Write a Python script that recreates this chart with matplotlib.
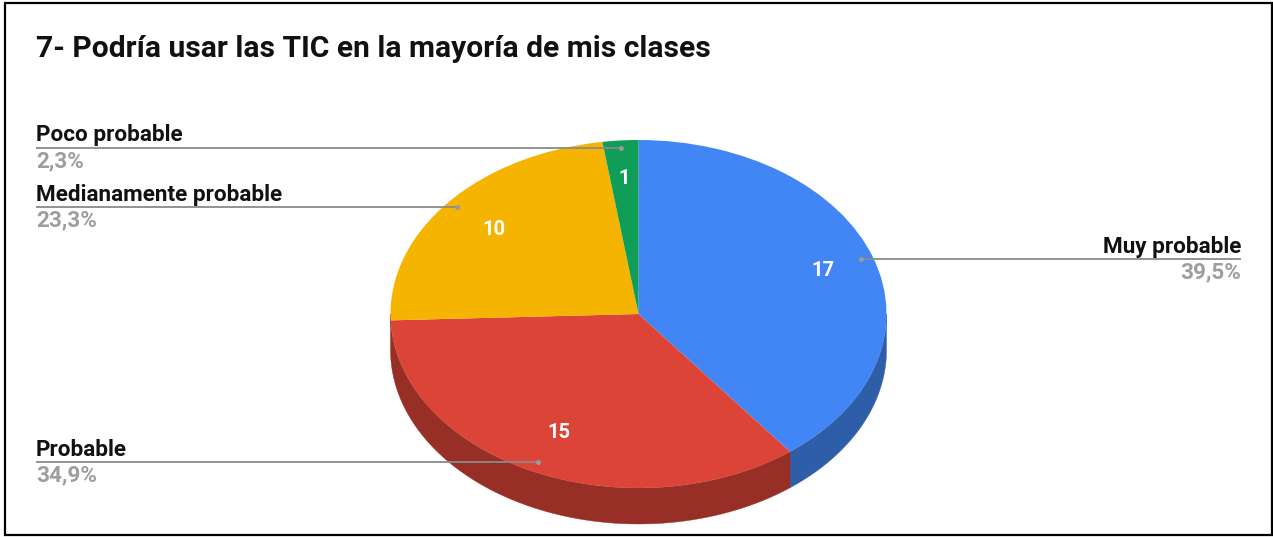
import numpy as np
import matplotlib
matplotlib.use("Agg")
import matplotlib.pyplot as plt
from matplotlib.patches import Polygon, Rectangle

W, H = 1273, 537

title = "7- Podría usar las TIC en la mayoría de mis clases"
categories = ["Muy probable", "Probable", "Medianamente probable", "Poco probable"]
values = [17, 15, 10, 1]
percents = ["39,5%", "34,9%", "23,3%", "2,3%"]
colors = ["#4285f4", "#db4437", "#f4b400", "#0f9d58"]
side_colors = ["#2f5ea9", "#982f26", "#ab7e00", "#0b6e3e"]

plt.rcParams["font.family"] = ["Roboto", "DejaVu Sans"]

fig = plt.figure(figsize=(W / 100, H / 100), dpi=100, facecolor="white")

# full-figure layer in pixels (y down) for frame and label text
px = fig.add_axes([0, 0, 1, 1], zorder=3)
px.set_xlim(0, W)
px.set_ylim(H, 0)
px.axis("off")
px.patch.set_alpha(0)

# pie axes: unit circle is stretched to an ellipse, 3D tilt look
x0, x1, y_top, y_bot = 390.5, 886.5, 140, 488
ax = fig.add_axes([x0 / W, 1 - y_bot / H, (x1 - x0) / W, (y_bot - y_top) / H], zorder=1)
depth = 36 / ((y_bot - y_top) / 2)

fracs = np.array(values) / sum(values)
edges = np.concatenate([[0], np.cumsum(fracs)]) * 2 * np.pi  # clockwise from top
mids = (edges[:-1] + edges[1:]) / 2

# side wall, only the front half of the rim shows
for i in range(len(values)):
    a = max(edges[i], np.pi / 2)
    b = min(edges[i + 1], 3 * np.pi / 2)
    if b - a < 0.05:  # nothing or only a sliver on the front rim
        continue
    if 3 * np.pi / 2 - b < 0.05:
        b = 3 * np.pi / 2
    t = np.linspace(a, b, 120)
    rim = np.column_stack([np.sin(t), np.cos(t)])
    low = rim[::-1] - [0, depth]
    ax.add_patch(Polygon(np.vstack([rim, low]), closed=True, fc=side_colors[i], ec=side_colors[i], lw=0.3))

wedges, _, autotexts = ax.pie(
    values, colors=colors, startangle=90, counterclock=False, radius=1,
    autopct=lambda p: str(int(round(p * sum(values) / 100))), pctdistance=0.78,
    textprops=dict(color="white", fontsize=14.5, fontweight="bold"),
    wedgeprops=dict(lw=0),
)
# the numbers sit a bit off the plain radius in the original
autotexts[1].set_position((autotexts[1].get_position()[0] + 0.012, autotexts[1].get_position()[1] + 0.025))
autotexts[2].set_position((autotexts[2].get_position()[0] + 0.018, autotexts[2].get_position()[1] - 0.012))
autotexts[0].set_position((autotexts[0].get_position()[0] + 0.006, autotexts[0].get_position()[1]))

ax.set_aspect("auto")
ax.set_xlim(-1, 1)
ax.set_ylim(-1, 1)
ax.axis("off")
for p in ax.patches:
    p.set_clip_on(False)

px.add_patch(Rectangle((5, 3), 1267, 532, fc="none", ec="black", lw=1.6))
px.text(36, 49, title, fontsize=21.6, fontweight="bold", color="#111111", va="center", ha="left")

# callouts: leader from the slice out to the label column
label_x = {0: (1241, "right"), 1: (36, "left"), 2: (36, "left"), 3: (36, "left")}
cx, cy = (x0 + x1) / 2, (y_top + y_bot) / 2
rx, ry = (x1 - x0) / 2, (y_bot - y_top) / 2
for i, name in enumerate(categories):
    lx, ha = label_x[i]
    dot_x = cx + 0.95 * rx * np.sin(mids[i])
    dot_y = cy - 0.95 * ry * np.cos(mids[i]) - 1.2
    px.plot([lx, dot_x], [dot_y, dot_y], color="#8a8a8a", lw=1.3, solid_capstyle="butt")
    px.plot([dot_x], [dot_y], "o", color="#9a9a9a", ms=3.6, mew=0)
    px.text(lx, dot_y - 1.5, name, fontsize=16.2, fontweight="bold", color="#111111", va="bottom", ha=ha)
    px.text(lx, dot_y + 2, percents[i], fontsize=16.2, fontweight="bold", color="#9e9e9e", va="top", ha=ha)

fig.savefig("out.png", dpi=100)
